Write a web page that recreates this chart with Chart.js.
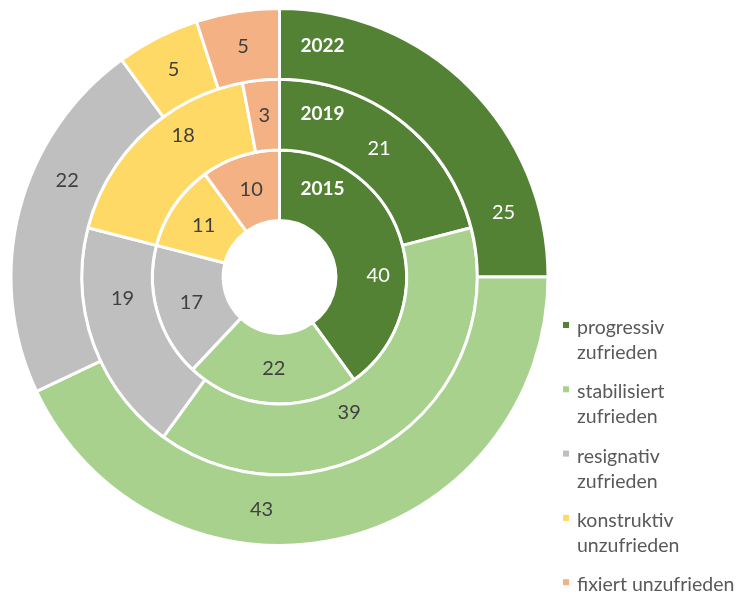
<!DOCTYPE html>
<html>
<head>
<meta charset="utf-8">
<script src="https://cdn.jsdelivr.net/npm/chart.js@4.4.1/dist/chart.umd.min.js"></script>
<style>
  html, body { margin: 0; padding: 0; background: #fff; }
  #wrap { width: 738px; height: 595px; }
</style>
</head>
<body>
<div id="wrap"><canvas id="ringChart" width="738" height="595"></canvas></div>
<script>
'use strict';

// --- Daten ---
const CATEGORIES = [
  ['progressiv', 'zufrieden'],
  ['stabilisiert', 'zufrieden'],
  ['resignativ', 'zufrieden'],
  ['konstruktiv', 'unzufrieden'],
  ['fixiert unzufrieden'],
];
const YEARS = ['2015', '2019', '2022'];
const VALUES_2015 = [40, 22, 17, 11, 10];
const VALUES_2019 = [21, 39, 19, 18, 3];
const VALUES_2022 = [25, 43, 22, 5, 5];
const COLORS = ['#548235', '#A9D18E', '#BFBFBF', '#FFD966', '#F4B183'];

// some labels in the original sit off the segment middle:
// angle nudge (degrees, clockwise) and radial nudge (px)
const LABEL_SHIFT = {
  '2022': [29, 17, 10, 0, 0],
  '2019': [0, 7, 12, 9, 0],
  '2015': [17, 0, 0, 0, 0],
};
const LABEL_RADIAL = {
  '2022': [0, 0, 0, 0, 0],
  '2019': [0, -10, -4, 9, 0],
  '2015': [7, 0, 0, 0, 0],
};
const YEAR_DY = { '2022': 2, '2019': -1, '2015': 4 };

const FONT = 'Lato, "Open Sans", sans-serif';

// --- Beschriftungen in den Ringen ---
const ringLabels = {
  id: 'ringLabels',
  afterDatasetsDraw(chart) {
    const { ctx } = chart;
    ctx.save();
    ctx.textAlign = 'center';
    ctx.textBaseline = 'middle';
    chart.data.datasets.forEach((ds, di) => {
      const meta = chart.getDatasetMeta(di);
      meta.data.forEach((arc, i) => {
        const p = arc.getProps(['x', 'y', 'startAngle', 'endAngle', 'innerRadius', 'outerRadius'], true);
        const shift = (LABEL_SHIFT[ds.label] || [])[i] || 0;
        const dr = (LABEL_RADIAL[ds.label] || [])[i] || 0;
        const a = (p.startAngle + p.endAngle) / 2 + shift * Math.PI / 180;
        const r = (p.innerRadius + p.outerRadius) / 2 + dr;
        ctx.font = '20px ' + FONT;
        ctx.fillStyle = i === 0 ? '#ffffff' : '#404040';
        ctx.fillText(String(ds.data[i]), p.x + r * Math.cos(a), p.y + r * Math.sin(a));
      });
      // Jahr oben im dunkelgruenen Segment
      const f = meta.data[0].getProps(['x', 'y', 'innerRadius', 'outerRadius'], true);
      const rm = (f.innerRadius + f.outerRadius) / 2;
      ctx.font = 'bold 19px ' + FONT;
      ctx.fillStyle = '#ffffff';
      ctx.fillText(ds.label, f.x + 43, f.y - rm + (YEAR_DY[ds.label] || 0));
    });
    ctx.restore();
  },
};

// --- Legende rechts ---
const sideLegend = {
  id: 'sideLegend',
  afterDraw(chart) {
    const { ctx } = chart;
    ctx.save();
    ctx.font = '19.5px ' + FONT;
    ctx.textAlign = 'left';
    ctx.textBaseline = 'alphabetic';
    chart.data.labels.forEach((lines, i) => {
      const y0 = 334 + i * 64.3;
      ctx.fillStyle = COLORS[i];
      ctx.fillRect(563, y0 - 12, 6, 6);
      ctx.fillStyle = '#595959';
      lines.forEach((t, j) => ctx.fillText(t, 577, y0 + j * 25));
    });
    ctx.restore();
  },
};

const series = { '2015': VALUES_2015, '2019': VALUES_2019, '2022': VALUES_2022 };

new Chart(document.getElementById('ringChart').getContext('2d'), {
  type: 'doughnut',
  data: {
    labels: CATEGORIES,
    // erster Datensatz = aeusserer Ring
    datasets: YEARS.slice().reverse().map(y => ({
      label: y,
      data: series[y],
      backgroundColor: COLORS,
      borderColor: '#ffffff',
      borderWidth: 3,
    })),
  },
  options: {
    responsive: false,
    animation: false,
    events: [],
    cutout: '21%',
    layout: { padding: { left: 9.5, top: 7, right: 188.5, bottom: 48 } },
    plugins: {
      legend: { display: false },
      tooltip: { enabled: false },
    },
  },
  plugins: [ringLabels, sideLegend],
});
</script>
</body>
</html>
